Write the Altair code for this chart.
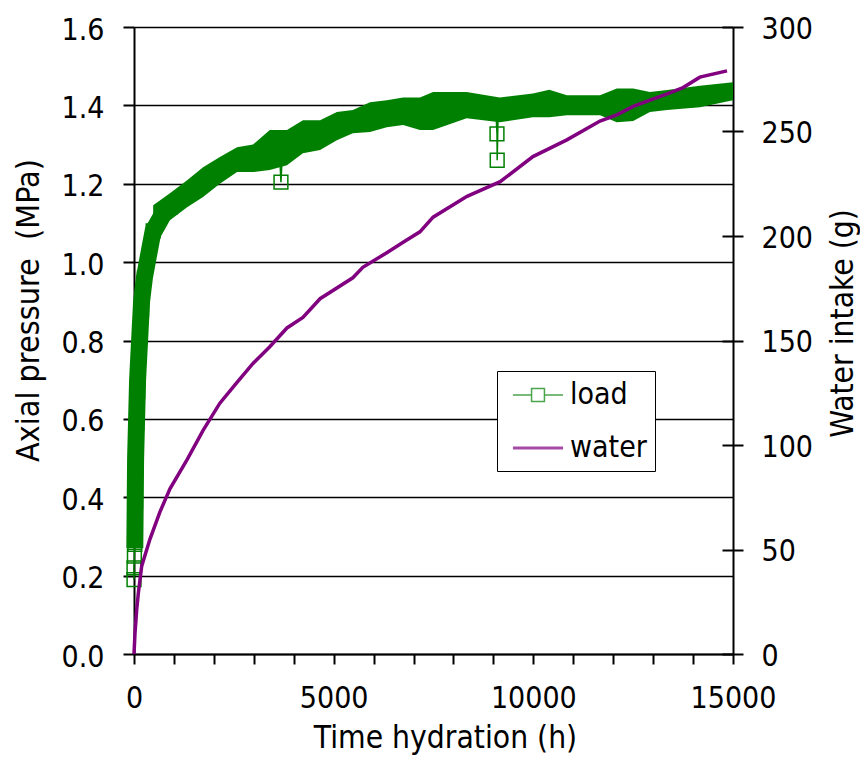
import altair as alt
import pandas as pd

GREEN = "#008000"
PURPLE = "#800080"
FONT = "DejaVu Sans Condensed"

# ---------------- data ----------------
# load (axial pressure, MPa) - centre of the dense steep early record
thick_t = [20, 40, 90, 150, 190, 260, 350, 480, 700, 900, 1330]
thick_p = [0.27, 0.50, 0.70, 0.82, 0.90, 0.96, 1.01, 1.08, 1.12, 1.14, 1.175]

# load - lower / upper envelope of the dense fluctuating record
band_t = [480, 900, 1330, 1730, 2150, 2580, 2980, 3400, 3830, 4230, 4660, 5080,
          5480, 5910, 6330, 6740, 7160, 7490, 8330, 9160, 9990, 10400, 10840,
          11670, 12090, 12500, 12920, 13350, 14170, 15000]
band_lo = [1.03, 1.107, 1.14, 1.166, 1.20, 1.23, 1.23, 1.235, 1.247, 1.278, 1.286, 1.311,
           1.329, 1.332, 1.344, 1.35, 1.337, 1.337, 1.367, 1.357, 1.37, 1.37, 1.375,
           1.375, 1.357, 1.36, 1.383, 1.388, 1.395, 1.413]
band_hi = [1.145, 1.176, 1.209, 1.242, 1.268, 1.293, 1.30, 1.337, 1.337, 1.362, 1.362, 1.383,
           1.388, 1.408, 1.413, 1.42, 1.42, 1.434, 1.434, 1.42, 1.43, 1.44, 1.426,
           1.426, 1.443, 1.443, 1.434, 1.439, 1.45, 1.459]

# load - individual recorded points (markers), incl. the outliers
load_t = [0, 0, 10, 20, 20, 30, 40, 40, 50, 60, 60, 70, 80, 90, 100, 120, 150, 190,
          260, 480, 900, 1730, 2980, 3640, 3680, 3720, 4660, 6740, 9060, 9090, 9095,
          9120, 11670, 14700]
load_p = [0.19, 0.22, 0.25, 0.28, 0.31, 0.35, 0.39, 0.43, 0.47, 0.51, 0.55, 0.59, 0.63,
          0.67, 0.71, 0.76, 0.81, 0.88, 0.96, 1.08, 1.14, 1.204, 1.265, 1.29, 1.204, 1.29,
          1.324, 1.385, 1.39, 1.327, 1.26, 1.39, 1.40, 1.432]

# water intake (g)
water_t = [0, 25, 67, 108, 192, 400, 650, 900, 1330, 1730, 2150, 2580, 2980, 3400,
           3830, 4230, 4660, 5480, 5730, 6330, 6740, 7160, 7490, 8340, 9170, 9990,
           10840, 11670, 12090, 12500, 13350, 13750, 14170, 14850]
water_g = [0, 10, 21, 29, 42, 55, 68, 79, 93, 107, 120, 130, 139, 147,
           156, 161, 170, 180, 185, 192, 197, 202, 209, 219, 226, 238,
           246, 255, 258, 262, 268, 271, 276, 279]

series_names = ["load", "water"]
x_ticks = [0, 1000, 2000, 3000, 4000, 5000, 6000, 7000, 8000, 9000, 10000,
           11000, 12000, 13000, 14000, 15000]
p_ticks = [0.0, 0.2, 0.4, 0.6, 0.8, 1.0, 1.2, 1.4, 1.6]
g_ticks = [0, 50, 100, 150, 200, 250, 300]

df_thick = pd.DataFrame({"t": thick_t, "p": thick_p})
df_band = pd.DataFrame({"t": band_t, "lo": band_lo, "hi": band_hi})
df_load = pd.DataFrame({"t": load_t, "p": load_p, "i": list(range(len(load_t)))})
df_water = pd.DataFrame({"t": water_t, "g": water_g})
df_empty = pd.DataFrame({"t": pd.Series([], dtype=float),
                         "g": pd.Series([], dtype=float),
                         "series": pd.Series([], dtype=str)})

# ---------------- scales & axes ----------------
XS = alt.Scale(domain=[0, 15000], nice=False)
YL = alt.Scale(domain=[0, 1.6], nice=False)
YR = alt.Scale(domain=[0, 300], nice=False)

common = dict(domainColor="black", domainWidth=2, tickColor="black", tickWidth=2,
              labelFont=FONT, labelFontSize=30, labelColor="black",
              titleFont=FONT, titleFontWeight="normal", titleColor="black")

x_axis = alt.Axis(orient="bottom", values=x_ticks, format="d",
                  labelExpr="datum.value % 5000 === 0 ? datum.label : ''",
                  grid=False, tickSize=10, labelPadding=19, labelFlush=False,
                  labelOverlap=False,
                  title="Time hydration (h)", titleFontSize=31.5, titleX=311,
                  titleY=68, titleAlign="center", titleBaseline="top", **common)

yl_axis = alt.Axis(orient="left", values=p_ticks, format=".1f", grid=True,
                   gridColor="black", gridWidth=1.5, tickSize=11, labelPadding=19,
                   labelOffset=3, labelOverlap=False,
                   title="Axial pressure\u00a0 (MPa)", titleFontSize=32,
                   titleAngle=270, titleX=-89, titleY=283, titleAlign="center",
                   titleBaseline="bottom", **common)

yr_axis = alt.Axis(orient="right", values=g_ticks, format="d", grid=False,
                   tickSize=10, labelPadding=18, labelOffset=2, labelOverlap=False,
                   title="Water intake (g)", titleFontSize=31.5, titleAngle=270,
                   titleX=126, titleY=296, titleAlign="center",
                   titleBaseline="bottom", **common)

inner_axis = alt.Axis(orient="right", values=g_ticks, offset=-11, tickSize=11,
                      tickColor="black", tickWidth=2, labels=False, domain=False,
                      grid=False, title=None)

# legend symbols: line with open square (load), plain thick line (water)
load_symbol = "M-1.67,0H-0.43M0.43,0H1.67M-0.43,-0.43H0.43V0.43H-0.43Z"
water_symbol = "M-1.67,-0.045H1.67M-1.67,0.045H1.67"

legend = alt.Legend(
    title=None, orient="none", legendX=363, legendY=344,
    fillColor="white", strokeColor="black", padding=8,
    symbolSize=900, symbolOffset=17, labelOffset=16, rowPadding=22,
    symbolStrokeWidth=1.5,
    labelFont=FONT, labelFontSize=30, labelColor="black",
)

X = alt.X("t:Q", scale=XS, axis=x_axis)

# ---------------- layers ----------------
band = alt.Chart(df_band).mark_area(color=GREEN, opacity=1).encode(
    x=X,
    y=alt.Y("lo:Q", scale=YL, axis=yl_axis),
    y2="hi:Q",
)
thick = alt.Chart(df_thick).mark_line(color=GREEN, strokeWidth=17,
                                      strokeJoin="round", strokeCap="butt").encode(
    x=X,
    y=alt.Y("p:Q", scale=YL, axis=None),
)
thin = alt.Chart(df_load).mark_line(
    color=GREEN, strokeWidth=1.5,
    point=alt.OverlayMarkDef(shape="square", filled=False, size=190,
                             color=GREEN, strokeWidth=1.5),
).encode(
    x=X,
    y=alt.Y("p:Q", scale=YL, axis=None),
    order="i:Q",
)
water = alt.Chart(df_water).mark_line(strokeWidth=3.5, color=PURPLE).encode(
    x=X,
    y=alt.Y("g:Q", scale=YR, axis=yr_axis),
)
inner = alt.Chart(df_water).mark_line(strokeOpacity=0).encode(
    x=X,
    y=alt.Y("g:Q", scale=YR, axis=inner_axis),
)
legend_layer = alt.Chart(df_empty).mark_point(filled=False, strokeWidth=1.5).encode(
    x=X,
    y=alt.Y("g:Q", scale=YR, axis=None),
    color=alt.Color("series:N",
                    scale=alt.Scale(domain=series_names, range=[GREEN, PURPLE]),
                    legend=legend),
    shape=alt.Shape("series:N",
                    scale=alt.Scale(domain=series_names,
                                    range=[load_symbol, water_symbol]),
                    legend=legend),
)

chart = alt.layer(band, thick, thin, water, inner, legend_layer).resolve_scale(
    y="independent").properties(
    width=599, height=627,
    autosize=alt.AutoSizeParams(type="none"),
    padding={"left": 126, "top": 19, "right": 127, "bottom": 101},
).configure_view(stroke=None)

chart.save("out.html", embed_options={"renderer": "svg", "actions": False})
